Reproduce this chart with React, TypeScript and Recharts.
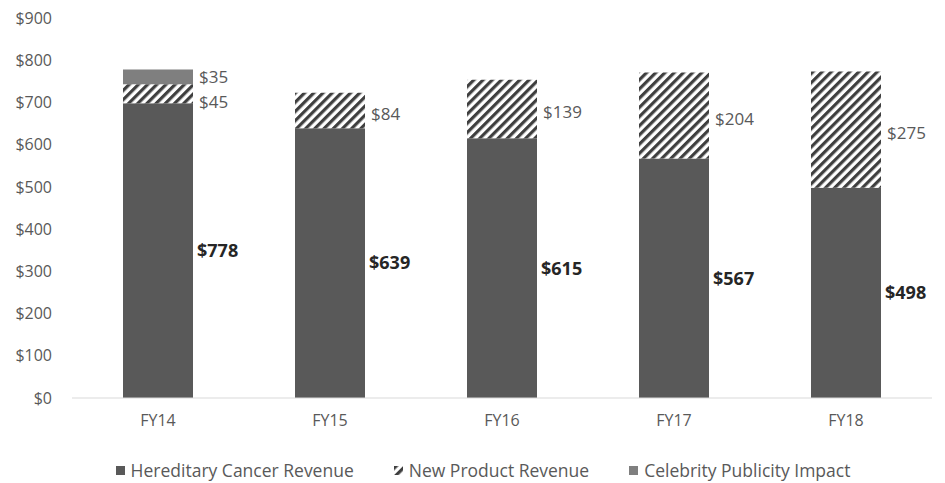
import { BarChart, Bar, XAxis, YAxis, Legend, LabelList } from 'recharts';

const years = ['FY14', 'FY15', 'FY16', 'FY17', 'FY18'];
const hereditary = [698, 639, 615, 567, 498];
// the source chart prints the FY14 total under the hereditary segment
const hereditaryLabels = [778, 639, 615, 567, 498];
const newProduct = [45, 84, 139, 204, 275];
const celebrity = [35, null, null, null, null];
const yTicks = [0, 100, 200, 300, 400, 500, 600, 700, 800, 900];

const data = years.map((year, i) => ({
  year,
  hereditary: hereditary[i],
  hereditaryLabel: hereditaryLabels[i],
  newProduct: newProduct[i],
  celebrity: celebrity[i],
}));

const FONT = '"Open Sans", "DejaVu Sans", sans-serif';
const DARK = '#595959';
const STRIPE = '#3f3f3f';
const LIGHT = '#7f7f7f';

const money = (v: any) => (v == null ? '' : `$${v}`);

// right-hand label, nudged down a little like the original
const makeSideLabel = (firstDy: number, dy: number) => (props: any) => {
  const { x, y, width, height, value, index } = props;
  if (value == null) return null;
  return (
    <text
      x={x + width + 6}
      y={y + height / 2 + (index === 0 ? firstDy : dy)}
      dominantBaseline="central"
      fill={DARK}
      fontSize={17}
      fontFamily={FONT}
    >
      {money(value)}
    </text>
  );
};

const LegendContent = () => {
  const items = [
    { name: 'Hereditary Cancer Revenue', fill: DARK },
    { name: 'New Product Revenue', fill: 'url(#hatch)' },
    { name: 'Celebrity Publicity Impact', fill: LIGHT },
  ];
  return (
    <div
      style={{
        display: 'flex',
        justifyContent: 'center',
        gap: 40,
        fontFamily: FONT,
        fontSize: 17.5,
        color: DARK,
        height: 20,
        lineHeight: '20px',
        alignItems: 'center',
      }}
    >
      {items.map((it) => (
        <div key={it.name} style={{ display: 'flex', alignItems: 'center' }}>
          <svg width={9} height={9} style={{ marginRight: 6 }}>
            <rect width={9} height={9} fill={it.fill} />
          </svg>
          <span>{it.name}</span>
        </div>
      ))}
    </div>
  );
};

export default function App() {
  return (
    <div style={{ position: 'absolute', left: 0, top: 0, background: '#fff' }}>
      <BarChart
        width={945}
        height={483}
        data={data}
        margin={{ top: 18, right: 13, left: 0, bottom: 3 }}
        barCategoryGap="30%"
      >
        <defs>
          <pattern
            id="hatch"
            width={6.5}
            height={6.5}
            patternUnits="userSpaceOnUse"
            patternTransform="rotate(45)"
          >
            <rect width={6.5} height={6.5} fill="#fff" />
            <rect width={3.2} height={6.5} fill={STRIPE} />
          </pattern>
        </defs>
        <XAxis
          dataKey="year"
          height={62}
          axisLine={{ stroke: '#d9d9d9' }}
          tickLine={false}
          tickSize={0}
          tickMargin={17}
          tick={{ fill: DARK, fontSize: 16, fontFamily: FONT }}
        />
        <YAxis
          width={72}
          domain={[0, 900]}
          ticks={yTicks}
          axisLine={false}
          tickLine={false}
          tickSize={0}
          tickMargin={20}
          tickFormatter={money}
          tick={{ fill: DARK, fontSize: 16, fontFamily: FONT }}
        />
        <Legend verticalAlign="bottom" content={<LegendContent />} wrapperStyle={{ left: 17 }} />
        <Bar dataKey="hereditary" stackId="a" fill={DARK} barSize={70} isAnimationActive={false}>
          <LabelList
            dataKey="hereditaryLabel"
            position="right"
            offset={4}
            formatter={money}
            style={{ fill: '#262626', fontSize: 18, fontWeight: 'bold', fontFamily: FONT }}
          />
        </Bar>
        <Bar dataKey="newProduct" stackId="a" fill="url(#hatch)" barSize={70} isAnimationActive={false}>
          <LabelList dataKey="newProduct" content={makeSideLabel(8, 3)} />
        </Bar>
        <Bar dataKey="celebrity" stackId="a" fill={LIGHT} barSize={70} isAnimationActive={false}>
          <LabelList dataKey="celebrity" content={makeSideLabel(0, 0)} />
        </Bar>
      </BarChart>
    </div>
  );
}
